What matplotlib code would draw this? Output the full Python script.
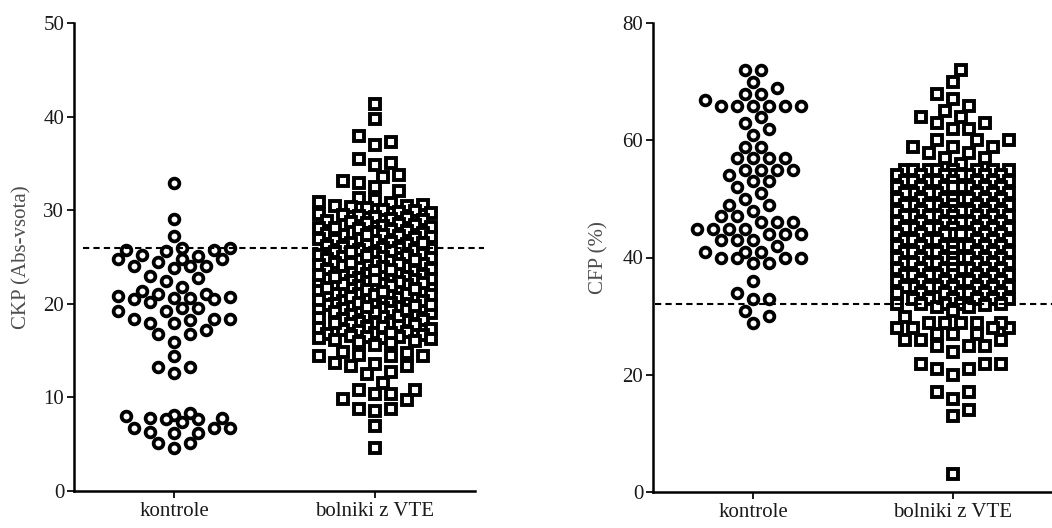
import numpy as np
import matplotlib
matplotlib.use("Agg")
import matplotlib.pyplot as plt

plt.rcParams['font.family'] = ['Liberation Serif', 'DejaVu Serif']

# ---- data ----
groups = ['kontrole', 'bolniki z VTE']

ckp_kontrole = [
    32.9, 29.1, 27.2, 26.0, 26.0, 25.7, 25.7, 25.6, 24.8, 24.8, 24.5, 25.1,
    25.2, 24.8, 24.0, 23.8, 24.0, 24.0, 23.0, 22.8, 22.4, 21.8, 21.1, 21.1,
    21.4, 20.8, 20.6, 20.6, 20.2, 20.5, 20.5, 20.7, 19.5, 19.2, 19.5, 19.2,
    18.4, 18.4, 18.4, 18.3, 17.9, 17.9, 17.2, 16.8, 16.8, 15.9, 14.4, 13.2,
    13.2, 12.6, 7.7, 8.0, 7.8, 8.3, 7.8, 8.1, 7.4, 7.7, 6.7, 6.2, 6.7, 6.3,
    6.7, 6.2, 5.1, 4.6, 5.1,
]

ckp_bolniki = [
    # sparse top
    41.3, 39.7, 37.9, 37.3, 37.0, 35.5, 35.0, 34.8, 33.8, 33.6, 33.1, 32.9,
    32.5, 32.1, 31.3,
    # dense block
    31.1, 30.9, 30.8,
    30.6, 30.5, 30.4, 30.3, 30.2,
    30.0, 29.9, 29.8, 29.7, 29.6,
    29.5, 29.4, 29.3, 29.2, 29.1,
    28.9, 28.8, 28.7, 28.6, 28.5, 28.4,
    28.3, 28.2, 28.1, 28.0, 27.9, 27.8,
    27.7, 27.6, 27.5, 27.4, 27.3, 27.2, 27.1,
    27.0, 26.9, 26.9, 26.8, 26.7, 26.6, 26.5, 26.4,
    26.3, 26.2, 26.1, 26.0, 26.0, 25.9, 25.8, 25.7,
    25.6, 25.5, 25.4, 25.3, 25.2, 25.1, 25.0, 25.0,
    24.9, 24.8, 24.7, 24.6, 24.5, 24.4, 24.3, 24.2,
    24.1, 24.0, 23.9, 23.8, 23.7, 23.6, 23.5, 23.4,
    23.3, 23.2, 23.1, 23.0, 23.0, 22.9, 22.8, 22.7, 22.6,
    22.5, 22.4, 22.3, 22.2, 22.1, 22.0, 22.0, 21.9, 21.8,
    21.7, 21.6, 21.5, 21.4, 21.3, 21.2, 21.1, 21.0, 21.0, 20.9,
    20.8, 20.7, 20.6, 20.5, 20.4, 20.3, 20.2, 20.1, 20.0, 20.0,
    19.9, 19.8, 19.7, 19.6, 19.5, 19.4, 19.3, 19.2, 19.1, 19.0,
    18.9, 18.8, 18.7, 18.6, 18.5, 18.4, 18.3, 18.2, 18.1,
    18.0, 17.9, 17.8, 17.7, 17.6, 17.5, 17.4, 17.3,
    17.2, 17.1, 17.0, 16.9, 16.8, 16.7, 16.6,
    16.5, 16.4, 16.3, 16.2, 16.1, 16.0,
    15.9, 15.8, 15.6,
    23.9, 23.5, 23.1, 22.7, 22.3, 21.9, 21.5, 21.1, 20.7, 20.3, 19.9, 19.5,
    19.1, 18.7, 24.3, 24.7, 25.1, 25.5, 20.9, 21.3, 21.7, 22.1, 22.5, 22.9,
    20.1, 19.7, 19.3, 26.5, 27.3, 28.1, 17.9, 17.5, 16.9, 16.3,
    22.2, 21.6, 20.4, 19.8, 23.6, 24.4,
    # sparse bottom
    14.7, 14.4, 14.5, 14.4, 14.8, 14.4, 13.6, 13.4, 13.4, 13.7, 12.5, 12.7,
    11.5, 10.4, 10.8, 10.8, 10.4, 9.7, 9.8, 8.5, 8.8, 8.8, 6.9, 4.6,
]

cfp_kontrole = [
    71.9, 71.9, 69.9, 68.9, 67.9, 67.9, 66.9,
    65.9, 65.9, 65.9, 65.9, 65.9, 65.9,
    63.9, 62.9, 62.0, 60.9, 58.9, 58.9,
    56.9, 56.9, 56.9, 56.9, 55.0, 55.0, 55.0, 55.0, 54.0, 53.0, 53.0,
    52.0, 51.0, 49.9, 49.0, 49.0, 48.0, 47.0, 47.0, 46.0, 46.0, 46.0,
    44.9, 44.9, 44.9, 44.9, 44.0, 44.0, 44.0, 43.0, 43.0, 43.0, 42.0,
    41.0, 41.0, 41.0, 40.0, 40.0, 40.0, 40.0, 39.0, 39.0,
    36.0, 33.9, 33.0, 33.0, 30.9, 30.0, 28.9,
]

cfp_bolniki = [
    # sparse top
    72.0, 69.9, 67.9, 67.0, 65.9, 65.0, 63.9, 63.9, 62.0, 62.9, 62.9, 62.0,
    60.0, 60.0, 60.0, 58.9, 58.9, 58.9, 57.9, 57.9, 56.9, 56.9, 56.0,
    # dense block
    55, 55, 55, 55, 55, 55, 55, 55,
    54, 54, 54, 54, 54, 54, 54, 54,
    53, 53, 53, 53, 53, 53, 53, 53,
    52, 52, 52, 52, 52, 52, 52, 52,
    51, 51, 51, 51, 51, 51, 51,
    50, 50, 50, 50, 50, 50, 50, 50,
    49, 49, 49, 49, 49, 49, 49, 49,
    48, 48, 48, 48, 48, 48, 48, 48,
    47, 47, 47, 47, 47, 47, 47, 47,
    46, 46, 46, 46, 46, 46, 46, 46,
    45, 45, 45, 45, 45, 45, 45, 45,
    44, 44, 44, 44, 44, 44, 44, 44,
    43, 43, 43, 43, 43, 43, 43,
    42, 42, 42, 42, 42, 42, 42, 42,
    41, 41, 41, 41, 41, 41, 41, 41,
    40, 40, 40, 40, 40, 40, 40, 40,
    39, 39, 39, 39, 39, 39, 39, 39,
    38, 38, 38, 38, 38, 38, 38, 38,
    37, 37, 37, 37, 37, 37, 37, 37,
    36, 36, 36, 36, 36, 36, 36,
    35, 35, 35, 35, 35, 35, 35, 35,
    34, 34, 34, 34, 34, 34, 34,
    33, 33, 33, 33, 33, 33,
    32, 32, 32, 32, 32,
    # sparse bottom
    31.6, 31.6, 30.9, 31.9, 29.9,
    27.9, 28.9, 28.9, 27.9, 28.9, 28.9, 28.9, 27.9, 27.9,
    26.9, 26.9, 26.9, 25.9, 25.9, 25.9, 24.9, 24.9, 24.9, 23.9,
    21.9, 21.9, 21.9, 21.0, 21.0, 19.9, 17.0, 17.0, 15.9, 14.0, 13.0, 3.0,
]

ckp_cutoff = 26.0
cfp_cutoff = 32.0


def swarm_x(ax, xc, vals, step=8.0, diam=13.0, kmax=7):
    # prism-like column scatter: spread points sideways in half-symbol steps
    tr = ax.transData
    ypx = tr.transform(np.column_stack([np.full(len(vals), xc), vals]))[:, 1]
    x0 = tr.transform((xc, 0))[0]
    cands = [0]
    for k in range(1, kmax + 1):
        cands += [k, -k]
    placed = []
    offs = np.zeros(len(vals))
    for i in np.argsort(ypx):
        y = ypx[i]
        best, bestd = 0, -1
        for k in cands:
            x = k * step
            d = min([np.hypot(x - px, y - py) for px, py in placed
                     if abs(y - py) < diam] + [1e9])
            if d >= diam:
                best = k
                break
            if d > bestd + 0.5:
                best, bestd = k, d
        placed.append((best * step, y))
        offs[i] = best * step
    inv = tr.inverted()
    return inv.transform(np.column_stack([x0 + offs, ypx]))[:, 0]


def style_axes(ax, ymax, yticks, ylabel, labelx):
    ax.set_xlim(0.5, 2.5)
    ax.set_ylim(0, ymax)
    for s in ['top', 'right']:
        ax.spines[s].set_visible(False)
    ax.spines['left'].set_linewidth(1.8)
    ax.spines['bottom'].set_linewidth(1.8)
    ax.set_yticks(yticks)
    ax.set_xticks([1, 2])
    ax.set_xticklabels(groups)
    ax.tick_params(axis='y', direction='out', length=5, width=1.4,
                   labelsize=15, colors='#1a1a1a', pad=2)
    ax.tick_params(axis='x', direction='out', length=5, width=1.4,
                   labelsize=15, colors='#1a1a1a', pad=3)
    ax.set_ylabel(ylabel, fontsize=15, color='#4d4d4d')
    ax.yaxis.set_label_coords(labelx, 0.5)


fig = plt.figure(figsize=(10.52, 5.28), dpi=100)
axL = fig.add_axes([74 / 1052, 37 / 528, 401 / 1052, 468 / 528])
axR = fig.add_axes([653 / 1052, 36 / 528, 400 / 1052, 469 / 528])

style_axes(axL, 50, [0, 10, 20, 30, 40, 50], 'CKP (Abs-vsota)', -0.107)
style_axes(axR, 80, [0, 20, 40, 60, 80], 'CFP (%)', -0.112)

panels = [
    (axL, ckp_kontrole, ckp_bolniki, ckp_cutoff, 0.545, 2.545),
    (axR, cfp_kontrole, cfp_bolniki, cfp_cutoff, 0.51, 2.56),
]
for ax, kon, bol, cut, x1, x2 in panels:
    xk = swarm_x(ax, 1, kon)
    ax.plot(xk, kon, linestyle='none', marker='o', ms=7.0, mew=2.7,
            mec='black', mfc='white', clip_on=False, zorder=3)
    xb = swarm_x(ax, 2, bol)
    ax.plot(xb, bol, linestyle='none', marker='s', ms=7.0, mew=2.8,
            mec='black', mfc='white', clip_on=False, zorder=3)
    ax.plot([x1, x2], [cut, cut], color='black', lw=1.5,
            linestyle=(0, (3, 2)), clip_on=False, zorder=4)

fig.savefig('out.png', dpi=100)
